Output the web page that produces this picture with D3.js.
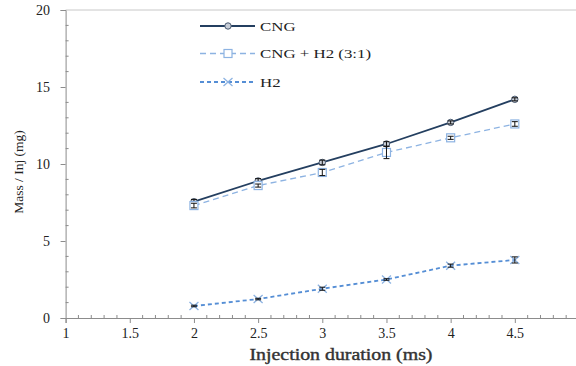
<!DOCTYPE html>
<html>
<head>
<meta charset="utf-8">
<script src="https://cdn.jsdelivr.net/npm/d3@7/dist/d3.min.js"></script>
<style>
  body { margin: 0; background: #fff; }
  svg { display: block; }
</style>
</head>
<body>
<svg id="chart" width="576" height="366"></svg>
<script>
const durations = [2, 2.5, 3, 3.5, 4, 4.5];
const cngMass = [7.55, 8.9, 10.1, 11.3, 12.7, 14.2];
const cngErr = [0.15, 0.15, 0.15, 0.15, 0.1, 0.1];
const mixMass = [7.3, 8.6, 9.45, 10.75, 11.7, 12.6];
const mixErr = [0.15, 0.1, 0.2, 0.4, 0.1, 0.15];
const h2Mass = [0.78, 1.23, 1.9, 2.5, 3.4, 3.77];
const h2Err = [0.05, 0.05, 0.1, 0.05, 0.1, 0.2];
const xTicks = [1, 1.5, 2, 2.5, 3, 3.5, 4, 4.5, 5];
const yTicks = [0, 5, 10, 15, 20];

const series = [
  { name: "CNG", values: cngMass, err: cngErr, color: "#243f60", width: 1.8, dash: null, marker: "circle" },
  { name: "CNG + H2 (3:1)", values: mixMass, err: mixErr, color: "#8db3e2", width: 1.3, dash: "6,4", marker: "square" },
  { name: "H2", values: h2Mass, err: h2Err, color: "#558ed5", width: 1.8, dash: "4,3", marker: "cross" },
];

const svg = d3.select("#chart");
const font = "Liberation Serif";
const axisColor = "#8c8c8c";

const x = d3.scaleLinear().domain([1, 5]).range([65.6, 579]);
const y = d3.scaleLinear().domain([0, 20]).range([318, 10]);

// top border of plot area
svg.append("line")
  .attr("x1", x(1)).attr("x2", 576)
  .attr("y1", y(20)).attr("y2", y(20))
  .attr("stroke", "#c8c8c8").attr("stroke-width", 1);

// minor ticks (inside)
const g = svg.append("g").attr("stroke", axisColor).attr("stroke-width", 1);
g.selectAll("line.xm")
  .data(d3.range(1, 5.01, 0.1).filter(v => Math.abs(v * 2 - Math.round(v * 2)) > 0.01))
  .join("line")
  .attr("x1", d => x(d)).attr("x2", d => x(d))
  .attr("y1", y(0)).attr("y2", y(0) - 3);
g.selectAll("line.ym")
  .data(d3.range(1, 20).filter(v => v % 5 !== 0))
  .join("line")
  .attr("x1", x(1)).attr("x2", x(1) + 3)
  .attr("y1", d => y(d)).attr("y2", d => y(d));

const xAxis = svg.append("g")
  .attr("transform", `translate(0,${y(0)})`)
  .call(d3.axisBottom(x).tickValues(xTicks).tickSize(5).tickFormat(d3.format("")));
const yAxis = svg.append("g")
  .attr("transform", `translate(${x(1)},0)`)
  .call(d3.axisLeft(y).tickValues(yTicks).tickSize(5));

[xAxis, yAxis].forEach(a => {
  a.attr("font-family", font);
  a.select(".domain").attr("stroke", axisColor);
  a.selectAll(".tick line").attr("stroke", axisColor);
  a.selectAll("text").attr("fill", "#222").attr("font-family", font).attr("font-size", 14);
});
xAxis.selectAll("text").attr("dy", "0.85em");
yAxis.selectAll("text").attr("x", -15.5);

svg.append("text")
  .attr("x", 341).attr("y", 360)
  .attr("text-anchor", "middle")
  .attr("font-family", font).attr("font-size", 16.5)
  .attr("textLength", 183).attr("lengthAdjust", "spacingAndGlyphs")
  .attr("fill", "#333").attr("stroke", "#333").attr("stroke-width", 0.4)
  .text("Injection duration (ms)");

svg.append("text")
  .attr("transform", "translate(23,172) rotate(-90)")
  .attr("text-anchor", "middle")
  .attr("font-family", font).attr("font-size", 13.5)
  .attr("fill", "#222")
  .text("Mass / Inj (mg)");

const line = d3.line().x(d => x(d[0])).y(d => y(d[1]));

function drawMarker(sel, kind, color) {
  if (kind === "circle") {
    sel.append("circle").attr("r", 3.2).attr("fill", "#c8ced8").attr("stroke", "#4a5a70").attr("stroke-width", 1);
  } else if (kind === "square") {
    sel.append("rect").attr("x", -4).attr("y", -4).attr("width", 8).attr("height", 8)
      .attr("fill", "#fff").attr("stroke", color).attr("stroke-width", 1.2);
  } else {
    sel.append("path").attr("d", "M-4.5,-4L4.5,4M-4.5,4L4.5,-4").attr("stroke", "#8db3e2").attr("stroke-width", 1.3);
  }
}

series.forEach(s => {
  const pts = durations.map((d, i) => [d, s.values[i]]);
  svg.append("path")
    .attr("d", line(pts))
    .attr("fill", "none")
    .attr("stroke", s.color)
    .attr("stroke-width", s.width)
    .attr("stroke-dasharray", s.dash);

  const m = svg.append("g").selectAll("g")
    .data(pts).join("g")
    .attr("transform", d => `translate(${x(d[0])},${y(d[1])})`);
  m.each(function () { drawMarker(d3.select(this), s.marker, s.color); });

  // error bars
  const e = svg.append("g").attr("stroke", "#111").attr("stroke-width", 1);
  durations.forEach((d, i) => {
    const cx = x(d), y1 = y(s.values[i] + s.err[i]), y2 = y(s.values[i] - s.err[i]);
    e.append("line").attr("x1", cx).attr("x2", cx).attr("y1", y1).attr("y2", y2);
    e.append("line").attr("x1", cx - 3).attr("x2", cx + 3).attr("y1", y1).attr("y2", y1);
    e.append("line").attr("x1", cx - 3).attr("x2", cx + 3).attr("y1", y2).attr("y2", y2);
  });
});

// legend (text is stretched horizontally as in the original figure)
const legendRows = [26, 53.5, 82];
const legend = svg.append("g");
series.forEach((s, i) => {
  const row = legend.append("g").attr("transform", `translate(200,${legendRows[i]})`);
  row.append("line").attr("x1", 0).attr("x2", 55).attr("y1", 0).attr("y2", 0)
    .attr("stroke", s.color).attr("stroke-width", s.width).attr("stroke-dasharray", s.dash);
  drawMarker(row.append("g").attr("transform", "translate(28,0)"), s.marker, s.color);
  row.append("text")
    .attr("transform", "translate(60,4.5) scale(1.35,1)")
    .attr("font-family", font).attr("font-size", 12.5).attr("fill", "#222")
    .text(s.name);
});
</script>
</body>
</html>
